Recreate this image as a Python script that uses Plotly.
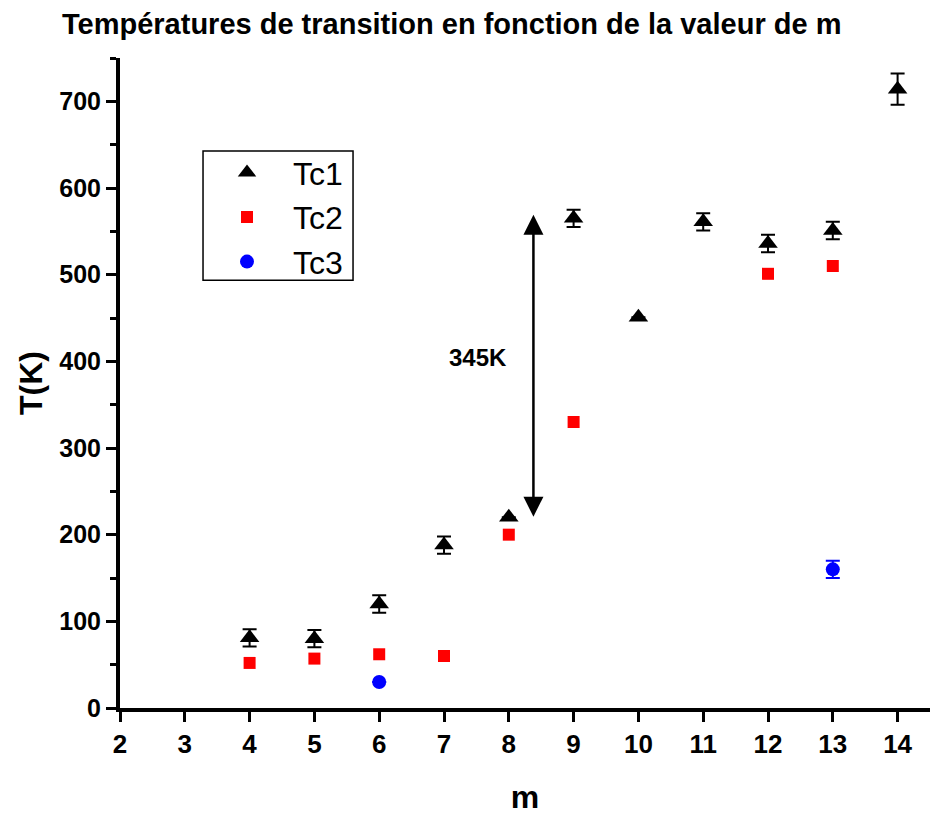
import plotly.graph_objects as go

# data
m_tc1 = [4, 5, 6, 7, 8, 9, 10, 11, 12, 13, 14]
tc1 = [81, 80, 120, 188, 220, 565, 451, 561, 536, 551, 714]
tc1_err = [10, 10, 10, 10, 0, 10, 0, 10, 10, 10, 18]

m_tc2 = [4, 5, 6, 7, 8, 9, 12, 13]
tc2 = [52, 57, 62, 60, 200, 330, 501, 510]

m_tc3 = [6, 13]
tc3 = [30, 160]
tc3_err = [0, 10]

x_ticks = list(range(2, 15))
y_ticks = list(range(0, 800, 100))

font = 'Arial, Liberation Sans, sans-serif'

fig = go.Figure()
fig.add_scatter(x=m_tc1, y=tc1, mode='markers', name='Tc1',
                marker=dict(symbol='triangle-up', size=17, color='black'),
                error_y=dict(type='data', array=tc1_err, color='black', thickness=2, width=7))
fig.add_scatter(x=m_tc2, y=tc2, mode='markers', name='Tc2',
                marker=dict(symbol='square', size=12, color='#ff0000'))
fig.add_scatter(x=m_tc3, y=tc3, mode='markers', name='Tc3',
                marker=dict(symbol='circle', size=14, color='#0000ff'),
                error_y=dict(type='data', array=tc3_err, color='#0000ff', thickness=2, width=7))

# double arrow showing the 345K gap
fig.add_annotation(x=8.38, y=569, ax=8.38, ay=219, xref='x', yref='y', axref='x', ayref='y',
                   text='', showarrow=True, arrowhead=2, startarrowhead=2, arrowside='end+start',
                   arrowsize=1.6, startarrowsize=1.6, arrowwidth=2.5, arrowcolor='black')
fig.add_annotation(x=7.52, y=405, xref='x', yref='y', text='<b>345K</b>', showarrow=False,
                   font=dict(family=font, size=24, color='black'))

# legend frame drawn as a shape so it can be wider than the entries
fig.add_shape(type='rect', xref='paper', yref='paper', x0=0.1025, x1=0.2877, y0=0.658, y1=0.857,
              line=dict(color='black', width=1.5), fillcolor='rgba(0,0,0,0)')

# the page has an 8px body margin, so margins are shifted to compensate
fig.update_layout(
    width=941, height=816,
    margin=dict(l=112, r=19, t=50, b=116),
    paper_bgcolor='white', plot_bgcolor='white',
    font=dict(family=font, color='black'),
    title=dict(text='<b>Températures de transition en fonction de la valeur de m</b>',
               xref='container', x=54/941, xanchor='left',
               yref='container', y=1 - 6/816, yanchor='top',
               font=dict(family=font, size=29, color='black')),
    showlegend=True,
    legend=dict(x=0.1, y=0.866, xanchor='left', yanchor='top',
                borderwidth=0, bgcolor='rgba(0,0,0,0)',
                font=dict(family=font, size=32), itemsizing='trace', itemwidth=82,
                tracegroupgap=0),
    xaxis=dict(range=[2, 14.5], tickmode='array', tickvals=x_ticks,
               ticktext=['<b>%d</b>' % v for v in x_ticks],
               showgrid=False, zeroline=False, showline=True, linecolor='black', linewidth=4,
               ticks='outside', ticklen=10, tickwidth=3, tickcolor='black',
               tickfont=dict(family=font, size=26, color='black'),
               title=dict(text='<b>m</b>', font=dict(family=font, size=32), standoff=28)),
    yaxis=dict(range=[0, 750], tickmode='array', tickvals=y_ticks,
               ticktext=['<b>%d</b>' % v for v in y_ticks],
               showgrid=False, zeroline=False, showline=True, linecolor='black', linewidth=4,
               ticks='outside', ticklen=10, tickwidth=3, tickcolor='black',
               minor=dict(ticks='outside', ticklen=6, tickwidth=3, tickcolor='black',
                          tickvals=list(range(50, 800, 100))),
               tickfont=dict(family=font, size=25, color='black'),
               title=dict(text='<b>T(K)</b>', font=dict(family=font, size=32), standoff=8)),
)

fig.write_html('out.html')
